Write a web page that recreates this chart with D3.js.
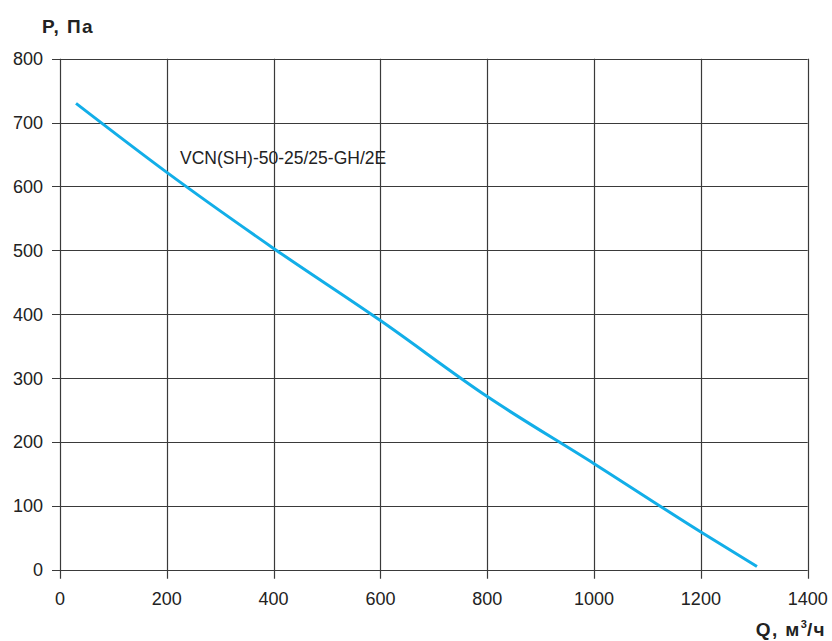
<!DOCTYPE html>
<html><head><meta charset="utf-8">
<script src="https://cdn.jsdelivr.net/npm/d3@7"></script>
<style>body{margin:0;background:#fff}svg{display:block}</style>
</head><body>
<svg id="c" width="832" height="641"></svg>
<script>
const xTicks = [0,200,400,600,800,1000,1200,1400];
const yTicks = [0,100,200,300,400,500,600,700,800];
const seriesName = "VCN(SH)-50-25/25-GH/2E";
const flowQ = [30,200,400,600,800,1000,1200,1305];
const pressureP = [730,622,503,390,271,166,59,5];

const svg = d3.select("#c");
const x = d3.scaleLinear().domain([0,1400]).range([60,807.7]);
const y = d3.scaleLinear().domain([0,800]).range([569.7,58.7]);
const font = "'Liberation Sans', Arial, sans-serif";
const gridColor = "#3a3a3a";

// grid
svg.append("g").selectAll("line").data(xTicks).join("line")
  .attr("x1",d=>Math.round(x(d))+0.5).attr("x2",d=>Math.round(x(d))+0.5)
  .attr("y1",y(800)).attr("y2",y(0)+9)
  .attr("stroke",gridColor).attr("stroke-width",1.2);
svg.append("g").selectAll("line").data(yTicks).join("line")
  .attr("y1",d=>Math.round(y(d))+0.5).attr("y2",d=>Math.round(y(d))+0.5)
  .attr("x1",x(0)-8).attr("x2",x(1400))
  .attr("stroke",gridColor).attr("stroke-width",1.2);

// tick labels
svg.append("g").selectAll("text").data(yTicks).join("text")
  .attr("x",43).attr("y",d=>y(d)).attr("dy","0.36em")
  .attr("text-anchor","end").attr("font-family",font).attr("font-size",18)
  .attr("fill","#222").text(d=>d);
svg.append("g").selectAll("text").data(xTicks).join("text")
  .attr("x",d=>x(d)).attr("y",605)
  .attr("text-anchor","middle").attr("font-family",font).attr("font-size",18)
  .attr("fill","#222").text(d=>d);

// axis titles
svg.append("text").attr("x",42).attr("y",33).attr("font-family",font)
  .attr("font-size",19).attr("letter-spacing",1.4).attr("font-weight","bold").attr("fill","#222").text("P, Па");
const qt = svg.append("text").attr("x",826).attr("y",636).attr("text-anchor","end")
  .attr("font-family",font).attr("font-size",19).attr("letter-spacing",1.4).attr("font-weight","bold").attr("fill","#222");
qt.append("tspan").text("Q, м");
qt.append("tspan").attr("font-size",11).attr("dy",-8).attr("letter-spacing",0).text("3");
qt.append("tspan").attr("dy",8).text("/ч");

// curve
const pts = flowQ.map((q,i)=>[q,pressureP[i]]);
svg.append("path").datum(pts)
  .attr("d",d3.line().x(d=>x(d[0])).y(d=>y(d[1])).curve(d3.curveMonotoneX))
  .attr("fill","none").attr("stroke","#12aee8").attr("stroke-width",3);

svg.append("text").attr("x",180).attr("y",164).attr("font-family",font)
  .attr("font-size",17.5).attr("fill","#222").text(seriesName);
</script>
</body></html>
